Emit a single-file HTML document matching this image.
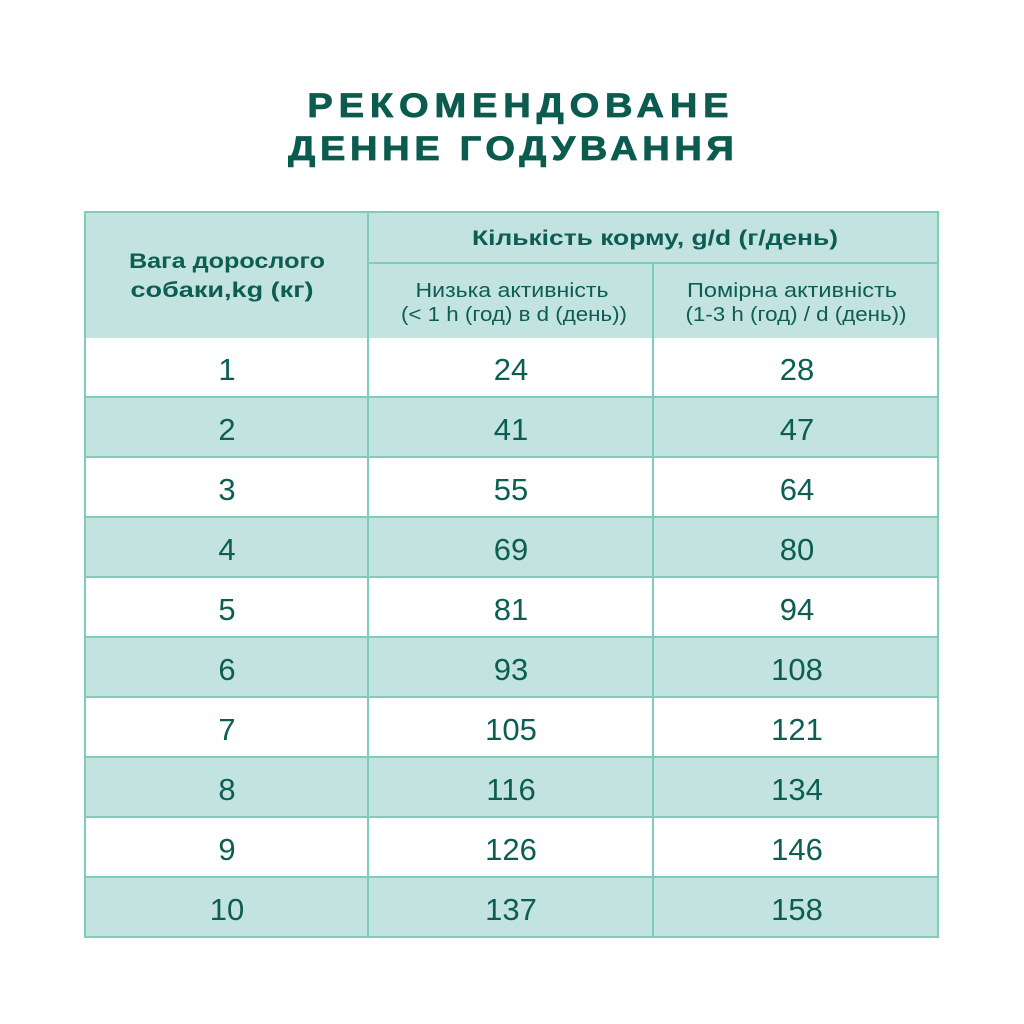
<!DOCTYPE html>
<html>
<head>
<meta charset="utf-8">
<style>
  html,body{margin:0;padding:0;background:#ffffff;}
  svg{display:block;}
  text{font-family:"Liberation Sans","Noto Sans CJK SC",sans-serif;fill:#0c5e52;}
</style>
</head>
<body>
<svg width="1024" height="1024" viewBox="0 0 1024 1024" xmlns="http://www.w3.org/2000/svg">
  <rect x="0" y="0" width="1024" height="1024" fill="#ffffff"/>

  <!-- Title -->
  <g transform="scale(1.12,1)">
    <text x="462.5" y="117" font-size="34" font-weight="bold" text-anchor="middle" textLength="376" lengthAdjust="spacing" style="fill:#0b5b4f;stroke:#0b5b4f;stroke-width:0.8">РЕКОМЕНДОВАНЕ</text>
    <text x="456.3" y="160" font-size="34" font-weight="bold" text-anchor="middle" textLength="398" lengthAdjust="spacing" style="fill:#0b5b4f;stroke:#0b5b4f;stroke-width:0.8">ДЕННЕ ГОДУВАННЯ</text>
  </g>

  <!-- Header background -->
  <rect x="85" y="211" width="853" height="127" fill="#c3e3e1"/>

  <!-- Row stripes -->
  <rect x="85" y="338" width="853" height="59" fill="#ffffff"/>
  <rect x="85" y="397" width="853" height="60" fill="#c3e3e1"/>
  <rect x="85" y="457" width="853" height="60" fill="#ffffff"/>
  <rect x="85" y="517" width="853" height="60" fill="#c3e3e1"/>
  <rect x="85" y="577" width="853" height="60" fill="#ffffff"/>
  <rect x="85" y="637" width="853" height="60" fill="#c3e3e1"/>
  <rect x="85" y="697" width="853" height="60" fill="#ffffff"/>
  <rect x="85" y="757" width="853" height="60" fill="#c3e3e1"/>
  <rect x="85" y="817" width="853" height="60" fill="#ffffff"/>
  <rect x="85" y="877" width="853" height="60" fill="#c3e3e1"/>

  <!-- Grid lines -->
  <g stroke="#80cbbb" stroke-width="2" fill="none">
    <rect x="85" y="212" width="853" height="725"/>
    <line x1="368" y1="211" x2="368" y2="937"/>
    <line x1="653" y1="263" x2="653" y2="937"/>
    <line x1="368" y1="263" x2="938" y2="263"/>
    <line x1="85" y1="397" x2="938" y2="397"/>
    <line x1="85" y1="457" x2="938" y2="457"/>
    <line x1="85" y1="517" x2="938" y2="517"/>
    <line x1="85" y1="577" x2="938" y2="577"/>
    <line x1="85" y1="637" x2="938" y2="637"/>
    <line x1="85" y1="697" x2="938" y2="697"/>
    <line x1="85" y1="757" x2="938" y2="757"/>
    <line x1="85" y1="817" x2="938" y2="817"/>
    <line x1="85" y1="877" x2="938" y2="877"/>
  </g>

  <!-- Header text -->
  <text x="227" y="268" font-size="21" font-weight="bold" text-anchor="middle" textLength="196" lengthAdjust="spacingAndGlyphs">Вага дорослого</text>
  <text x="222" y="297" font-size="21" font-weight="bold" text-anchor="middle" textLength="183" lengthAdjust="spacingAndGlyphs">собаки,kg (кг)</text>

  <text x="655" y="245" font-size="21" font-weight="bold" text-anchor="middle" textLength="366" lengthAdjust="spacingAndGlyphs">Кількість корму, g/d (г/день)</text>

  <text x="512" y="297" font-size="20" text-anchor="middle" textLength="193" lengthAdjust="spacingAndGlyphs">Низька активність</text>
  <text x="514" y="321" font-size="20" text-anchor="middle" textLength="226" lengthAdjust="spacingAndGlyphs">(&lt; 1 h (год) в d (день))</text>

  <text x="792" y="297" font-size="20" text-anchor="middle" textLength="210" lengthAdjust="spacingAndGlyphs">Помірна активність</text>
  <text x="796" y="321" font-size="20" text-anchor="middle" textLength="221" lengthAdjust="spacingAndGlyphs">(1-3 h (год) / d (день))</text>

  <!-- Data -->
  <g font-size="31" text-anchor="middle">
    <text x="227" y="380">1</text><text x="511" y="380">24</text><text x="797" y="380">28</text>
    <text x="227" y="440">2</text><text x="511" y="440">41</text><text x="797" y="440">47</text>
    <text x="227" y="500">3</text><text x="511" y="500">55</text><text x="797" y="500">64</text>
    <text x="227" y="560">4</text><text x="511" y="560">69</text><text x="797" y="560">80</text>
    <text x="227" y="620">5</text><text x="511" y="620">81</text><text x="797" y="620">94</text>
    <text x="227" y="680">6</text><text x="511" y="680">93</text><text x="797" y="680">108</text>
    <text x="227" y="740">7</text><text x="511" y="740">105</text><text x="797" y="740">121</text>
    <text x="227" y="800">8</text><text x="511" y="800">116</text><text x="797" y="800">134</text>
    <text x="227" y="860">9</text><text x="511" y="860">126</text><text x="797" y="860">146</text>
    <text x="227" y="920">10</text><text x="511" y="920">137</text><text x="797" y="920">158</text>
  </g>
</svg>
</body>
</html>
